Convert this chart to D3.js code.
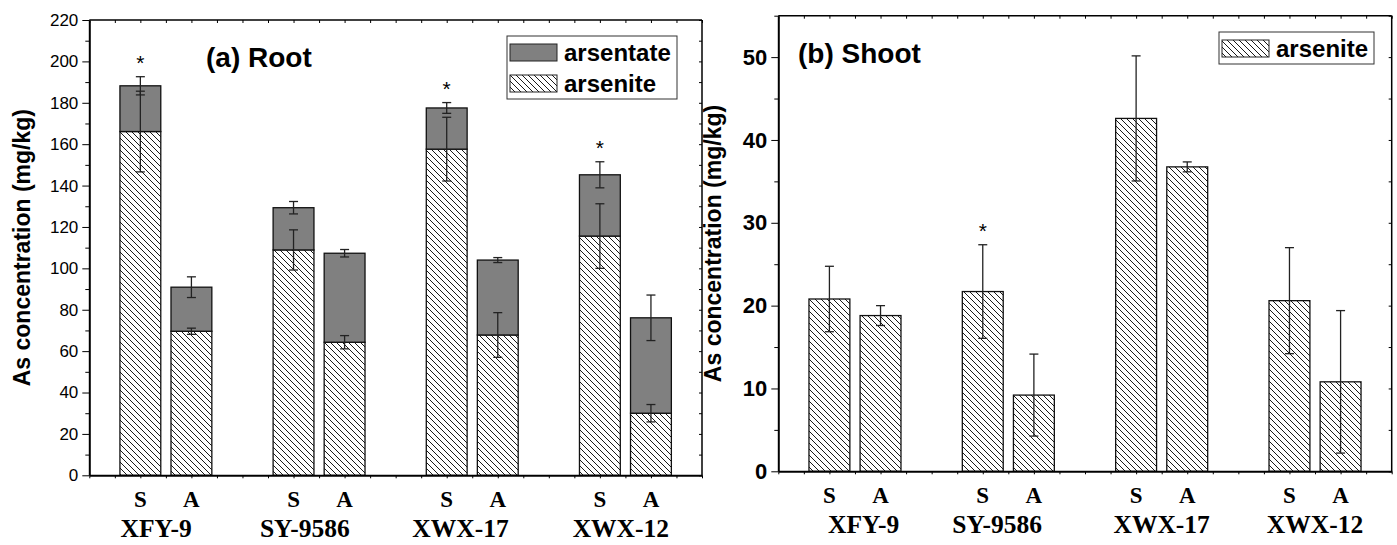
<!DOCTYPE html>
<html>
<head>
<meta charset="utf-8">
<script src="https://cdn.jsdelivr.net/npm/d3@7"></script>
<style>
  body { margin: 0; background: #fff; }
  svg { display: block; }
</style>
</head>
<body>
<script>
// cultivars and treatments (S / A)
var groups = ["XFY-9", "SY-9586", "XWX-17", "XWX-12"];
var treatments = ["S", "A"];

// (a) Root, mg/kg, order: S,A per cultivar
var rootArsenite    = [166.1, 69.6, 108.9, 64.3, 157.6, 67.8, 115.6, 30.0];
var rootArseniteErr = [19.5, 1.5, 9.7, 3.2, 15.4, 10.8, 15.6, 4.2];
var rootTotal       = [188.2, 90.9, 129.3, 107.3, 177.5, 104.0, 145.2, 76.1];
var rootTotalErr    = [4.4, 5.0, 3.0, 1.8, 2.6, 1.2, 6.3, 11.0];
var rootStars       = [1, 0, 0, 0, 1, 0, 1, 0];
var rootTicks       = [0, 20, 40, 60, 80, 100, 120, 140, 160, 180, 200, 220];

// (b) Shoot, arsenite only
var shootArsenite    = [20.8, 18.8, 21.7, 9.2, 42.6, 36.75, 20.6, 10.8];
var shootArseniteErr = [3.95, 1.2, 5.65, 4.95, 7.55, 0.6, 6.4, 8.6];
var shootStars       = [0, 0, 1, 0, 0, 0, 0, 0];
var shootTicks       = [0, 10, 20, 30, 40, 50];

var W = 1397, H = 545;
var sans = "'Liberation Sans', Arial, sans-serif";
var serif = "'Liberation Serif', 'Times New Roman', serif";

var svg = d3.select("body").append("svg")
    .attr("width", W)
    .attr("height", H);

var defs = svg.append("defs");
var pat = defs.append("pattern")
    .attr("id", "hatch")
    .attr("width", 6).attr("height", 6)
    .attr("patternUnits", "userSpaceOnUse");
pat.append("rect").attr("width", 6).attr("height", 6).attr("fill", "#fff");
pat.append("path")
    .attr("d", "M-1,-1 L7,7 M5,-1 L7,1 M-1,5 L1,7")
    .attr("stroke", "#000")
    .attr("stroke-width", 0.9);

// position of bar i (0..7) on the 0..12 x-domain
function slot(i) { return Math.floor(i / 2) * 3 + 1 + (i % 2); }

function drawPanel(p) {
  var x = d3.scaleLinear().domain([0, 12]).range([p.left, p.right]);
  var y = d3.scaleLinear().domain([0, p.ymax]).range([p.bottom, p.top]);
  var bw = x(0.8) - x(0);

  var g = svg.append("g");

  // stacked table
  var rows = p.arsenite.map(function(v, i) {
    return { i: i, arsenite: v, arsenate: p.total ? p.total[i] - v : 0 };
  });
  var keys = p.total ? ["arsenite", "arsenate"] : ["arsenite"];
  var stacked = d3.stack().keys(keys)(rows);

  stacked.forEach(function(layer) {
    g.append("g").selectAll("rect")
      .data(layer)
      .enter().append("rect")
      .attr("x", function(d) { return x(slot(d.data.i)) - bw / 2; })
      .attr("width", bw)
      .attr("y", function(d) { return y(d[1]); })
      .attr("height", function(d) { return y(d[0]) - y(d[1]); })
      .attr("fill", layer.key == "arsenite" ? "url(#hatch)" : "#808080")
      .attr("stroke", "#111")
      .attr("stroke-width", 1.3);
  });

  // error bars
  function errBars(vals, errs) {
    var eg = g.append("g").attr("stroke", "#222").attr("stroke-width", 1.3);
    vals.forEach(function(v, i) {
      var cx = x(slot(i));
      var y1 = y(v + errs[i]), y0 = y(v - errs[i]);
      eg.append("line").attr("x1", cx).attr("x2", cx).attr("y1", y1).attr("y2", y0);
      eg.append("line").attr("x1", cx - 4.5).attr("x2", cx + 4.5).attr("y1", y1).attr("y2", y1);
      eg.append("line").attr("x1", cx - 4.5).attr("x2", cx + 4.5).attr("y1", y0).attr("y2", y0);
    });
  }
  errBars(p.arsenite, p.arseniteErr);
  if (p.total) errBars(p.total, p.totalErr);

  // significance stars
  var topV = p.total || p.arsenite, topE = p.totalErr || p.arseniteErr;
  g.append("g").selectAll("text")
    .data(p.stars.map(function(s, i) { return { s: s, i: i }; }).filter(function(d) { return d.s; }))
    .enter().append("text")
    .attr("x", function(d) { return x(slot(d.i)); })
    .attr("y", function(d) { return y(topV[d.i] + topE[d.i]) - 7; })
    .attr("text-anchor", "middle")
    .style("font-family", sans)
    .style("font-size", "21px")
    .text("*");

  // frame: top/right border
  g.append("line").attr("x1", p.left).attr("x2", p.right).attr("y1", p.top).attr("y2", p.top)
    .attr("stroke", "#000").attr("stroke-width", 1.5);
  g.append("line").attr("x1", p.right).attr("x2", p.right).attr("y1", p.top).attr("y2", p.bottom)
    .attr("stroke", "#000").attr("stroke-width", 1.5);

  // y axis (left) with labels, minor ticks
  var minor = d3.range(0, p.ymax + 0.001, p.minorStep);
  var yAxis = g.append("g").attr("transform", "translate(" + p.left + ",0)")
    .call(d3.axisLeft(y).tickValues(p.ticks).tickSize(7).tickPadding(4).tickSizeOuter(0));
  yAxis.select(".domain").attr("stroke-width", 2);
  yAxis.selectAll("text")
    .style("font-family", sans)
    .style("font-size", p.tickFont)
    .style("font-weight", p.tickWeight)
    .attr("fill", "#000");
  g.append("g").attr("transform", "translate(" + p.left + ",0)")
    .call(d3.axisLeft(y).tickValues(minor.filter(function(v) { return p.ticks.indexOf(v) < 0; }))
      .tickSize(4).tickFormat("").tickSizeOuter(0))
    .select(".domain").remove();
  // mirror ticks on right
  g.append("g").attr("transform", "translate(" + p.right + ",0)")
    .call(d3.axisLeft(y).tickValues(minor).tickSize(3).tickFormat("").tickSizeOuter(0))
    .select(".domain").remove();

  // x axis: tiny ticks every half slot
  var xt = d3.range(0, 12.01, 0.5);
  var xAxis = g.append("g").attr("transform", "translate(0," + p.bottom + ")")
    .call(d3.axisBottom(x).tickValues(xt).tickSize(3).tickFormat("").tickSizeOuter(0));
  xAxis.select(".domain").attr("stroke-width", 2);
  g.append("g").attr("transform", "translate(0," + p.top + ")")
    .call(d3.axisBottom(x).tickValues(xt).tickSize(3).tickFormat("").tickSizeOuter(0))
    .select(".domain").remove();

  // S / A labels and cultivar labels
  g.append("g").selectAll("text")
    .data(d3.range(8))
    .enter().append("text")
    .attr("x", function(i) { return x(slot(i)); })
    .attr("y", p.bottom + 32)
    .attr("text-anchor", "middle")
    .style("font-family", serif)
    .style("font-weight", "bold")
    .style("font-size", "23px")
    .text(function(i) { return treatments[i % 2]; });

  g.append("g").selectAll("text")
    .data(groups)
    .enter().append("text")
    .attr("x", function(d, k) { return x(k * 3 + 1.5 + p.groupShift[k]); })
    .attr("y", p.bottom + 62)
    .attr("text-anchor", "middle")
    .style("font-family", serif)
    .style("font-weight", "bold")
    .style("font-size", "25.5px")
    .text(function(d) { return d; });

  // y title
  g.append("text")
    .attr("transform", "translate(" + p.titleX + "," + ((p.top + p.bottom) / 2) + ") rotate(-90)")
    .attr("text-anchor", "middle")
    .attr("dy", "0.35em")
    .style("font-family", sans)
    .style("font-weight", "bold")
    .style("font-size", "23px")
    .text("As concentration (mg/kg)");

  // panel label
  g.append("text")
    .attr("x", p.labelX).attr("y", p.labelY)
    .style("font-family", sans)
    .style("font-weight", "bold")
    .style("font-size", "28px")
    .text(p.label);

  // legend
  var lg = g.append("g").attr("transform", "translate(" + p.legX + "," + p.legY + ")");
  var items = p.total ? [["#808080", "arsentate"], ["url(#hatch)", "arsenite"]] : [["url(#hatch)", "arsenite"]];
  lg.append("rect")
    .attr("width", p.legW).attr("height", items.length * 31 + 1)
    .attr("fill", "#fff").attr("stroke", "#333").attr("stroke-width", 1);
  items.forEach(function(it, k) {
    lg.append("rect")
      .attr("x", 3).attr("y", 8 + k * 31)
      .attr("width", 47).attr("height", 17)
      .attr("fill", it[0]).attr("stroke", "#222").attr("stroke-width", 1);
    lg.append("text")
      .attr("x", 57).attr("y", 16.5 + k * 31)
      .attr("dy", "0.35em")
      .style("font-family", sans)
      .style("font-weight", "bold")
      .style("font-size", "24px")
      .text(it[1]);
  });
}

drawPanel({
  left: 89.3, right: 702, top: 20, bottom: 475.3, ymax: 220,
  ticks: rootTicks, minorStep: 10, tickFont: "17px", tickWeight: "normal",
  arsenite: rootArsenite, arseniteErr: rootArseniteErr,
  total: rootTotal, totalErr: rootTotalErr, stars: rootStars,
  groupShift: [-0.19, -0.28, -0.23, -0.09],
  titleX: 22, label: "(a) Root", labelX: 206, labelY: 67,
  legX: 507, legY: 36, legW: 170
});

drawPanel({
  left: 778.3, right: 1391.7, top: 15.7, bottom: 471.3, ymax: 55,
  ticks: shootTicks, minorStep: 5, tickFont: "22px", tickWeight: "bold",
  arsenite: shootArsenite, arseniteErr: shootArseniteErr,
  total: null, totalErr: null, stars: shootStars,
  groupShift: [0.17, -0.22, 0, 0],
  titleX: 713, label: "(b) Shoot", labelX: 798, labelY: 63,
  legX: 1219, legY: 32, legW: 155
});
</script>
</body>
</html>
